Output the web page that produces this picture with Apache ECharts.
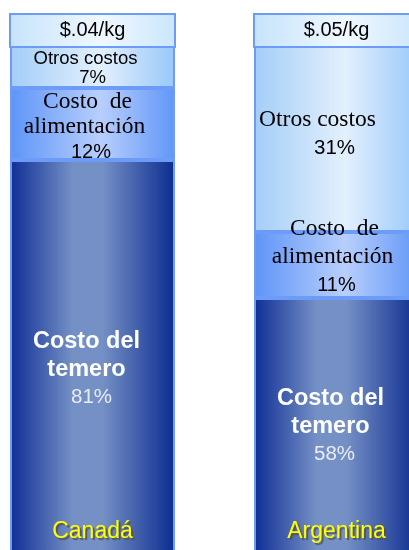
<!DOCTYPE html>
<html><head><meta charset="utf-8">
<script src="https://cdn.jsdelivr.net/npm/echarts@6/dist/echarts.min.js"></script>
<style>html,body{margin:0;padding:0;background:#fff}#c{width:409px;height:550px}</style>
</head><body><div id="c"></div>
<script>
const countries = ['Canadá', 'Argentina'];
const pricePerKg = ['$.04/kg', '$.05/kg'];
const costoTernero = [81, 58];
const costoAlimentacion = [12, 11];
const otrosCostos = [7, 31];

function hgrad(stops) {
  return new echarts.graphic.LinearGradient(0, 0, 1, 0,
    stops.map(s => ({offset: s[0], color: s[1]})));
}
const gTernero = () => hgrad([[0,'#0e2e96'],[0.38,'#7590c5'],[0.56,'#7590c5'],[1,'#0c2c90']]);
const gAlim = () => hgrad([[0,'#5e94f8'],[0.55,'#b8cffc'],[1,'#6196f8']]);
const gOtros = () => hgrad([[0,'#a3cdf8'],[0.55,'#e3f0fd'],[1,'#98c8fa']]);
const gHead = () => hgrad([[0,'#c6e3fb'],[0.55,'#f0f8ff'],[1,'#cbe6fc']]);

const SERIF = '"Liberation Serif","Times New Roman",serif';
const SANS = '"Liberation Sans",Arial,sans-serif';
const border = '#6c9cf7';

// per-bar label placement (styling, not data)
const terneroLbl = [
  {offset: [-6, 14], pad: 10},
  {offset: [-6, 2], pad: 8}
];
const alimLbl = [
  {offset: [-8, 3], lh: 25, padA: 6, padP: 13},
  {offset: [-4, -8], lh: 28, padA: 4, padP: 8}
];

const chart = echarts.init(document.getElementById('c'));
chart.setOption({
  animation: false,
  grid: {left: -29.5, top: 46, width: 488, height: 516, outerBoundsMode: 'none', containLabel: false},
  xAxis: [
    {
      type: 'category', data: countries, position: 'bottom', z: 10,
      axisLine: {show: false}, axisTick: {show: false},
      axisLabel: {
        inside: true, margin: 19, interval: 0, color: '#ffff00', fontSize: 23,
        fontFamily: SANS, textShadowColor: 'rgba(80,80,80,0.9)', textShadowOffsetX: 2, textShadowOffsetY: 2, textShadowBlur: 1
      }
    },
    {
      type: 'category', data: pricePerKg, position: 'top', z: 10,
      axisLine: {show: false}, axisTick: {show: false},
      axisLabel: {
        margin: 0, interval: 0, width: 163, height: 31, lineHeight: 31, align: 'center',
        backgroundColor: gHead(), borderColor: border, borderWidth: 2,
        color: '#000', fontSize: 20, fontFamily: SANS
      }
    }
  ],
  yAxis: {type: 'value', min: 14, max: 100, show: false, splitLine: {show: false}},
  series: [
    {
      name: 'Costo del ternero', type: 'bar', stack: 'c', barWidth: 165,
      itemStyle: {color: gTernero(), borderColor: border, borderWidth: 2},
      data: costoTernero.map((v, i) => ({
        value: v,
        label: {
          show: true, position: 'inside', offset: [terneroLbl[i].offset[0], terneroLbl[i].offset[1] - 6],
          formatter: '{b|Costo del}\n{b|temero}\n{p|' + v + '%}',
          rich: {
            b: {fontFamily: SANS, fontWeight: 'bold', fontSize: 23.5, color: '#fff', lineHeight: 28},
            p: {fontFamily: SANS, fontSize: 20.5, color: '#e6ecf8', lineHeight: 28, padding: [0, 0, 0, terneroLbl[i].pad]}
          }
        }
      }))
    },
    {
      name: 'Costo de alimentación', type: 'bar', stack: 'c', barWidth: 165,
      itemStyle: {color: gAlim(), borderColor: border, borderWidth: 2},
      data: costoAlimentacion.map((v, i) => ({
        value: v,
        label: {
          show: true, position: 'inside', offset: alimLbl[i].offset,
          formatter: '{a|Costo  de}\n{s|alimentación}\n{p|' + v + '%}',
          rich: {
            a: {fontFamily: SERIF, fontSize: 23.5, color: '#000', lineHeight: alimLbl[i].lh, padding: [0, 0, 0, alimLbl[i].padA]},
            s: {fontFamily: SERIF, fontSize: 23.5, color: '#000', lineHeight: alimLbl[i].lh},
            p: {fontFamily: SANS, fontSize: 20, color: '#000', lineHeight: alimLbl[i].lh, padding: [0, 0, 0, alimLbl[i].padP]}
          }
        }
      }))
    },
    {
      name: 'Otros costos', type: 'bar', stack: 'c', barWidth: 165,
      itemStyle: {color: gOtros(), borderColor: border, borderWidth: 2},
      data: otrosCostos.map((v, i) => ({
        value: v,
        label: i === 0 ? {
          show: true, position: 'inside', offset: [-7, 1],
          formatter: '{a|Otros costos}\n{p|' + v + '%}',
          rich: {
            a: {fontFamily: SANS, fontSize: 18.5, color: '#000', lineHeight: 19},
            p: {fontFamily: SANS, fontSize: 18.5, color: '#000', lineHeight: 19, padding: [0, 0, 0, 14]}
          }
        } : {
          show: true, position: 'inside', offset: [-19, -5],
          formatter: '{s|Otros costos}\n{p|' + v + '%}',
          rich: {
            s: {fontFamily: SERIF, fontSize: 23.5, color: '#000', lineHeight: 28},
            p: {fontFamily: SANS, fontSize: 20.5, color: '#000', lineHeight: 28, padding: [0, 0, 0, 34]}
          }
        }
      }))
    }
  ]
});
</script>
</body></html>
